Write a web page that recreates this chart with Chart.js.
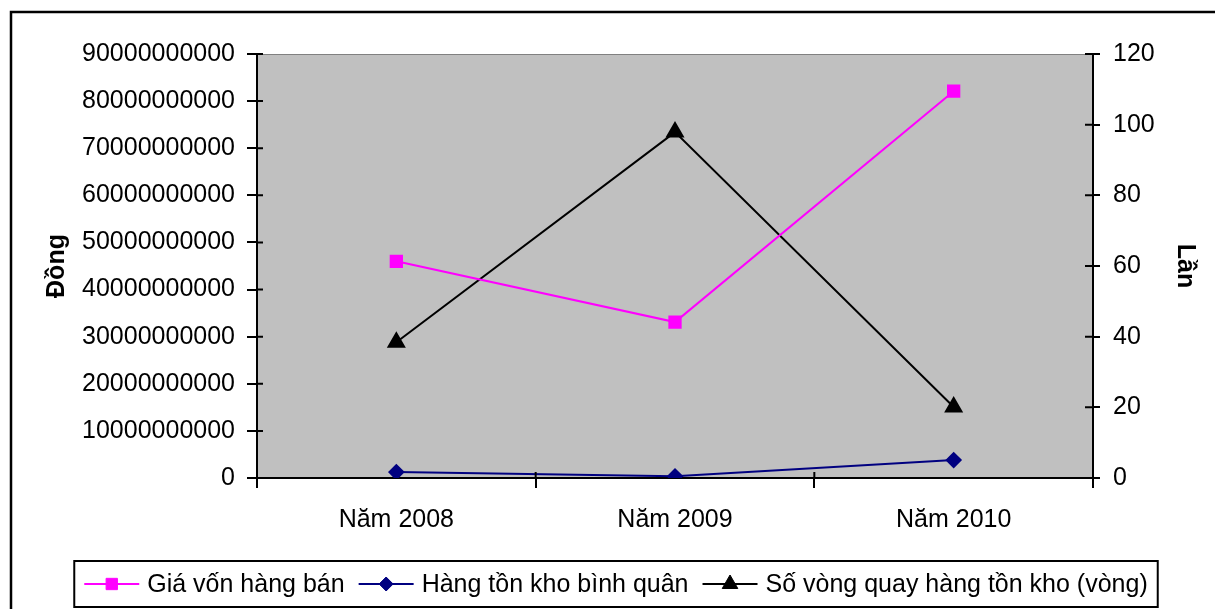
<!DOCTYPE html>
<html>
<head>
<meta charset="utf-8">
<script src="https://cdn.jsdelivr.net/npm/chart.js@4/dist/chart.umd.min.js"></script>
<style>
  html, body { margin: 0; padding: 0; background: #ffffff; }
  #wrap { width: 1215px; height: 609px; }
</style>
</head>
<body>
<div id="wrap"><canvas id="c" width="1215" height="609"></canvas></div>
<script>
// Categories and series
const years = ['Năm 2008', 'Năm 2009', 'Năm 2010'];
const giaVonHangBan = [46000000000, 33100000000, 82100000000];      // Đồng
const hangTonKhoBinhQuan = [1250000000, 350000000, 3800000000];    // Đồng
const soVongQuay = [38.4, 97.9, 20.1];                              // Lần

const seriesNames = ['Giá vốn hàng bán', 'Hàng tồn kho bình quân', 'Số vòng quay hàng tồn kho (vòng)'];
const leftTitle = 'Đồng';
const rightTitle = 'Lần';

const FONT = '"Liberation Sans", Arial, sans-serif';

// Gray plot background, outer frame and inner halves of axis ticks
const frame = {
  id: 'frame',
  beforeDraw(chart) {
    const { ctx, chartArea: a } = chart;
    ctx.save();
    ctx.fillStyle = '#ffffff';
    ctx.fillRect(0, 0, chart.width, chart.height);
    ctx.fillStyle = '#c0c0c0';
    ctx.fillRect(a.left, a.top, a.right - a.left, a.bottom - a.top);
    ctx.strokeStyle = '#808080';
    ctx.lineWidth = 1;
    ctx.strokeRect(a.left + 0.5, a.top + 0.5, a.right - a.left - 1, a.bottom - a.top - 1);
    ctx.restore();
  },
  afterDraw(chart) {
    const { ctx, chartArea: a, scales } = chart;
    ctx.save();
    ctx.strokeStyle = '#000000';
    ctx.lineWidth = 2;
    ctx.beginPath();
    scales.y.ticks.forEach((t, i) => {
      const y = scales.y.getPixelForTick(i);
      ctx.moveTo(a.left, y); ctx.lineTo(a.left + 6, y);
    });
    scales.y1.ticks.forEach((t, i) => {
      const y = scales.y1.getPixelForTick(i);
      ctx.moveTo(a.right - 8, y); ctx.lineTo(a.right, y);
    });
    for (let i = 1; i < years.length; i++) {
      const x = scales.x.getPixelForValue(i - 0.5);
      ctx.moveTo(x, a.bottom - 6); ctx.lineTo(x, a.bottom);
    }
    ctx.stroke();
    // outer frame
    ctx.lineWidth = 2.5;
    ctx.strokeRect(11, 12, 1400, 800);
    ctx.restore();
  }
};

// Legend with line + marker samples inside a bordered box
const boxLegend = {
  id: 'boxLegend',
  afterDraw(chart) {
    const { ctx } = chart;
    const ds = chart.data.datasets;
    ctx.save();
    ctx.font = '25px ' + FONT;
    ctx.textBaseline = 'middle';
    ctx.textAlign = 'left';
    const sampleW = 55, gap = 8, itemGap = 14, padX = 10;
    const widths = ds.map(d => ctx.measureText(d.label).width);
    const total = widths.reduce((s, w) => s + w, 0) + ds.length * (sampleW + gap) + (ds.length - 1) * itemGap;
    const cx = 616;
    let x = cx - total / 2;
    const top = 561, bottom = 607, cy = 584;
    ctx.strokeStyle = '#000000';
    ctx.lineWidth = 2;
    ctx.strokeRect(x - padX, top, total + 2 * padX, bottom - top);
    ds.forEach((d, i) => {
      ctx.strokeStyle = d.borderColor;
      ctx.lineWidth = d.borderWidth;
      ctx.beginPath();
      ctx.moveTo(x, cy); ctx.lineTo(x + sampleW, cy);
      ctx.stroke();
      ctx.fillStyle = d.pointBackgroundColor;
      ctx.strokeStyle = d.pointBorderColor;
      ctx.lineWidth = 1;
      Chart.helpers.drawPoint(ctx, { pointStyle: d.pointStyle, radius: d.pointRadius, rotation: 0, borderWidth: 1 }, x + sampleW / 2, cy);
      ctx.fillStyle = '#000000';
      ctx.fillText(d.label, x + sampleW + gap, cy + 1);
      x += sampleW + gap + widths[i] + itemGap;
    });
    ctx.restore();
  }
};

new Chart(document.getElementById('c'), {
  type: 'line',
  data: {
    labels: years,
    datasets: [
      {
        label: seriesNames[0], data: giaVonHangBan, yAxisID: 'y',
        borderColor: '#ff00ff', backgroundColor: '#ff00ff', borderWidth: 2,
        pointStyle: 'rect', pointRadius: 8, pointBackgroundColor: '#ff00ff', pointBorderColor: '#ff00ff',
        tension: 0
      },
      {
        label: seriesNames[1], data: hangTonKhoBinhQuan, yAxisID: 'y',
        borderColor: '#000080', backgroundColor: '#000080', borderWidth: 2,
        pointStyle: 'rectRot', pointRadius: 7, pointBackgroundColor: '#000080', pointBorderColor: '#000080',
        tension: 0
      },
      {
        label: seriesNames[2], data: soVongQuay, yAxisID: 'y1',
        borderColor: '#000000', backgroundColor: '#000000', borderWidth: 2,
        pointStyle: 'triangle', pointRadius: 9, pointBackgroundColor: '#000000', pointBorderColor: '#000000',
        tension: 0
      }
    ]
  },
  options: {
    responsive: false,
    animation: false,
    devicePixelRatio: 1,
    layout: { padding: { left: 30, right: 8, top: 54, bottom: 70 } },
    plugins: { legend: { display: false }, tooltip: { enabled: false } },
    scales: {
      x: {
        offset: true,
        grid: { offset: true, drawOnChartArea: false, color: '#000000', lineWidth: 2, tickLength: 10 },
        border: { color: '#000000', width: 2 },
        ticks: { color: '#000000', font: { family: FONT, size: 25 }, padding: 17, maxRotation: 0 },
        afterFit(s) { s.height = 609 - 70 - 478; }
      },
      y: {
        position: 'left', min: 0, max: 90000000000,
        grid: { drawOnChartArea: false, color: '#000000', lineWidth: 2, tickLength: 10 },
        border: { color: '#000000', width: 2 },
        ticks: {
          stepSize: 10000000000, color: '#000000', font: { family: FONT, size: 25 }, padding: 12,
          callback: v => String(v)
        },
        title: { display: true, text: leftTitle, color: '#000000', font: { family: FONT, size: 25, weight: 'bold' }, padding: { top: 12, bottom: 0 } },
        afterFit(s) { s.width = 227; }
      },
      y1: {
        position: 'right', min: 0, max: 120,
        grid: { drawOnChartArea: false, color: '#000000', lineWidth: 2, tickLength: 7 },
        border: { color: '#000000', width: 2 },
        ticks: { stepSize: 20, color: '#000000', font: { family: FONT, size: 25 }, padding: 13 },
        title: { display: true, text: rightTitle, color: '#000000', font: { family: FONT, size: 25, weight: 'bold' }, padding: { top: 7, bottom: 0 } },
        afterFit(s) { s.width = 114; }
      }
    }
  },
  plugins: [frame, boxLegend]
});
</script>
</body>
</html>
